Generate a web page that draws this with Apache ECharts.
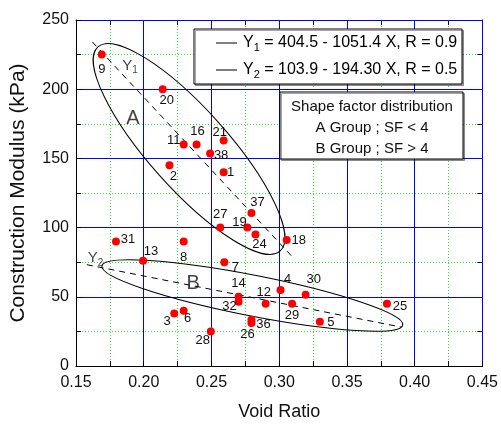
<!DOCTYPE html>
<html>
<head>
<meta charset="utf-8">
<script src="https://cdn.jsdelivr.net/npm/echarts@6/dist/echarts.min.js"></script>
<style>
  html, body { margin: 0; padding: 0; background: #fff; }
  #myChart { width: 501px; height: 426px; }
</style>
</head>
<body>
<div id="myChart"></div>
<script>
// sample numbers, void ratio and modulus (kPa)
var pointIds = [9, 20, 11, 16, 21, 38, 1, 2, 37, 27, 19, 24, 18, 31, 8, 13, 7, 14, 32, 12, 4, 30, 29, 5, 25, 3, 6, 28, 36, 26]
var voidRatio = [0.169, 0.214, 0.2295, 0.239, 0.259, 0.249, 0.259, 0.219, 0.2795, 0.2565, 0.2765, 0.2825, 0.3055, 0.1795, 0.2295, 0.1995, 0.2595, 0.27, 0.27, 0.29, 0.301, 0.3195, 0.3095, 0.33, 0.3795, 0.2225, 0.2295, 0.2495, 0.2795, 0.2795]
var modulus = [225, 200, 160, 160, 163, 153.5, 140, 145, 110.5, 100, 100, 95, 91, 90, 90, 76, 75, 50, 46.5, 45, 55, 51.5, 45, 32, 45, 38, 40, 25, 33.5, 31]

// regression lines  Y = a - b X
var fitIntercept = [404.5, 103.9]
var fitSlope = [1051.4, 194.30]
var fitR = [0.9, 0.5]
var fitFrom = [0.162, 0.158]
var fitTo = [0.311, 0.390]

// group envelopes: ends of the long axis (data units) and width ratio
var envelopeA = [0.1662, 230.5, 0.3007, 83.1, 0.29]
var envelopeB = [0.1691, 72.3, 0.3912, 29.6, 0.133]

// x / y ticks: major step and minor (dotted grid) step
var xTicks = { min: 0.15, max: 0.45, step: 0.05, minor: 0.025 }
var yTicks = { min: 0, max: 250, step: 50, minor: 25 }

// where each point number sits next to its dot (px)
var labelOffsets = {
  9: [0, 15], 20: [4, 11], 11: [-10, -4], 16: [1, -13], 21: [-4, -8], 38: [11, 2], 1: [7, 0], 2: [4, 11],
  37: [6, -11], 27: [0, -13], 19: [-8, -5], 24: [4, 10], 18: [12, 0], 31: [12, -2], 8: [0, 16],
  13: [8, -9], 7: [11, 5], 14: [0, -13], 32: [-9, 5], 12: [-2, -11], 4: [7, -10], 30: [8, -15],
  29: [0, 12], 5: [11, 1], 25: [13, 3], 3: [-7, 8], 6: [4, 8], 28: [-8, 9], 36: [12, 5], 26: [-4, 11]
}

var FONT = 'Liberation Sans, Arial, sans-serif'
var INK = '#111'

var myChart = echarts.init(document.getElementById('myChart'))

var points = pointIds.map(function (id, i) {
  return {
    value: [voidRatio[i], modulus[i]],
    label: { offset: labelOffsets[id] || [8, 0] },
    id: String(id)
  }
})

var fitLines = fitIntercept.map(function (a, i) {
  return {
    type: 'line',
    data: [[fitFrom[i], a - fitSlope[i] * fitFrom[i]], [fitTo[i], a - fitSlope[i] * fitTo[i]]],
    symbol: 'none',
    silent: true,
    lineStyle: { color: '#000', width: 1, type: [6, 5] },
    z: 3
  }
})

function envelope (params, api) {
  var p1 = api.coord([api.value(0), api.value(1)])
  var p2 = api.coord([api.value(2), api.value(3)])
  var dx = p2[0] - p1[0]
  var dy = p2[1] - p1[1]
  var rx = Math.sqrt(dx * dx + dy * dy) / 2
  return {
    type: 'ellipse',
    x: (p1[0] + p2[0]) / 2,
    y: (p1[1] + p2[1]) / 2,
    rotation: -Math.atan2(dy, dx),
    shape: { cx: 0, cy: 0, rx: rx, ry: rx * api.value(4) },
    style: { fill: null, stroke: '#000', lineWidth: 1 }
  }
}

var subRich = {
  m: { fontSize: 15, fontFamily: FONT, color: INK },
  s: { fontSize: 10, fontFamily: FONT, color: INK, padding: [10, 0, 0, 0] },
  lm: { fontSize: 16, fontFamily: FONT, color: INK },
  ls: { fontSize: 11, fontFamily: FONT, color: INK, padding: [10, 0, 0, 0] },
  big: { fontSize: 20, fontFamily: FONT, color: INK }
}

var notes = [
  { value: [0.192, 179], label: { formatter: '{big|A}' } },
  { value: [0.2364, 59.7], label: { formatter: '{big|B}' } },
  { value: [0.1898, 217], label: { formatter: '{m|Y}{s|1}' } },
  { value: [0.1645, 78], label: { formatter: '{m|Y}{s|2}' } }
]

var frameLine = { show: true, onZero: false, lineStyle: { color: '#000', width: 1 } }
var tickIn = { show: true, inside: true, length: 5, lineStyle: { color: '#000' } }
var blueGrid = { show: true, lineStyle: { color: '#0000ff', width: 1 } }
// every other minor line falls on a blue one, leave those clear
var greenGrid = { show: true, lineStyle: { color: ['rgba(0,0,0,0)', '#22ee22'], width: 1, type: [1, 2] } }

// bottom / left: labels and blue major grid
// top / right: every minor step, dotted green grid
var option = {
  animation: false,
  backgroundColor: '#fff',
  textStyle: { fontFamily: FONT },
  grid: { left: 76, right: 17, top: 20, bottom: 60 },
  xAxis: [
    {
      type: 'value', z: 2,
      min: xTicks.min, max: xTicks.max, interval: xTicks.step,
      name: 'Void Ratio', nameLocation: 'middle', nameGap: 37,
      nameTextStyle: { fontSize: 18, color: INK, fontFamily: FONT },
      axisLine: frameLine,
      axisTick: tickIn,
      minorTick: { show: true, splitNumber: 2, length: 5, lineStyle: { color: '#000' } },
      axisLabel: { fontSize: 16, color: INK, margin: 9, formatter: function (v) { return v.toFixed(2) } },
      splitLine: blueGrid
    },
    {
      type: 'value', z: 1, position: 'top',
      min: xTicks.min, max: xTicks.max, interval: xTicks.minor,
      axisLine: frameLine,
      axisTick: tickIn,
      axisLabel: { show: false },
      splitLine: greenGrid
    }
  ],
  yAxis: [
    {
      type: 'value', z: 2,
      min: yTicks.min, max: yTicks.max, interval: yTicks.step,
      name: 'Construction Modulus (kPa)', nameLocation: 'middle', nameGap: 47,
      nameTextStyle: { fontSize: 21, color: INK, fontFamily: FONT },
      axisLine: frameLine,
      axisTick: tickIn,
      minorTick: { show: true, splitNumber: 2, length: 5, lineStyle: { color: '#000' } },
      axisLabel: { fontSize: 16, color: INK, margin: 7 },
      splitLine: blueGrid
    },
    {
      type: 'value', z: 1, position: 'right',
      min: yTicks.min, max: yTicks.max, interval: yTicks.minor,
      axisLine: frameLine,
      axisTick: tickIn,
      axisLabel: { show: false },
      splitLine: greenGrid
    }
  ],
  series: [
    {
      type: 'custom',
      renderItem: envelope,
      data: [envelopeA, envelopeB],
      silent: true,
      z: 2
    }
  ].concat(fitLines).concat([
    {
      type: 'scatter',
      data: points,
      symbol: 'circle',
      symbolSize: 8,
      itemStyle: { color: '#ff0000', opacity: 1 },
      label: {
        show: true,
        position: 'inside',
        fontSize: 13,
        color: INK,
        formatter: function (p) { return p.data.id }
      },
      z: 5
    },
    {
      type: 'scatter',
      data: notes,
      symbolSize: 0,
      silent: true,
      label: { show: true, position: 'inside', rich: subRich },
      z: 4
    }
  ]),
  graphic: []
}

function box (x, y, w, h, children) {
  return {
    type: 'group', z: 100,
    children: [{
      type: 'rect', z: 100, shape: { x: x, y: y, width: w, height: h },
      style: { fill: '#fff', stroke: '#000', lineWidth: 1, shadowColor: 'rgba(0,0,0,0.35)', shadowOffsetX: 1.5, shadowOffsetY: 1.5 }
    }].concat(children)
  }
}

var fitTexts = []
fitIntercept.forEach(function (a, i) {
  var y = 43 + i * 27
  fitTexts.push({ type: 'line', z: 101, shape: { x1: 216, y1: y, x2: 237, y2: y }, style: { stroke: '#000', lineWidth: 1 } })
  fitTexts.push({
    type: 'text', z: 101, x: 243, y: y,
    style: {
      text: '{lm|Y}{ls|' + (i + 1) + '}{lm| = ' + a + ' - ' + fitSlope[i].toFixed(i === 0 ? 1 : 2) + ' X, R = ' + fitR[i] + '}',
      rich: subRich, verticalAlign: 'middle'
    }
  })
})

var groupTexts = ['Shape factor distribution', 'A Group ; SF < 4', 'B Group ; SF > 4'].map(function (t, i) {
  return {
    type: 'text', z: 101, x: 372, y: 107 + i * 21,
    style: { text: t, fontSize: 15, fontFamily: FONT, fill: INK, align: 'center', verticalAlign: 'middle' }
  }
})

option.graphic = [box(194, 29, 268, 55, fitTexts), box(280, 92, 183, 67, groupTexts)]

myChart.setOption(option, true)
</script>
</body>
</html>
